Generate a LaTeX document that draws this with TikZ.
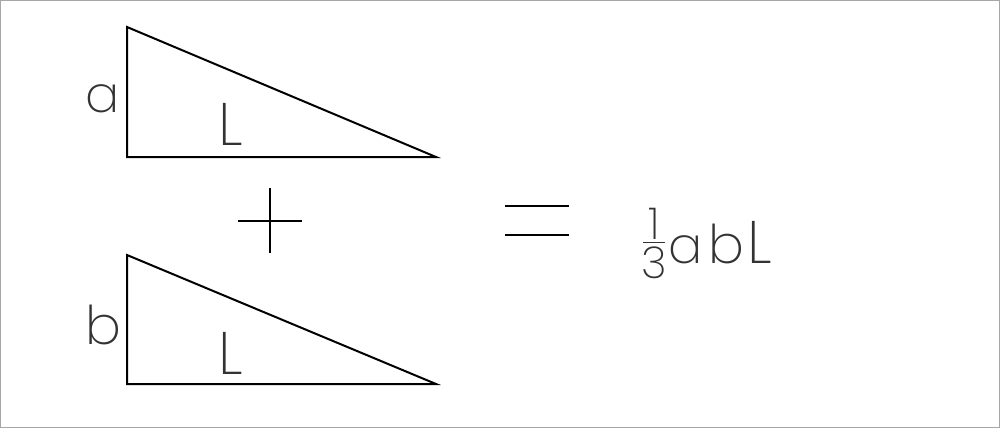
\documentclass[tikz,border=0pt]{standalone}
\usepackage{fontspec}
\newfontfamily\thinfont{Poppins ExtraLight}
\begin{document}
\begin{tikzpicture}[x=0.75pt,y=-0.75pt,
  tri/.style={line width=1.5pt, line join=miter},
  sym/.style={line width=1.5pt},
  txt/.style={inner sep=0pt, anchor=base, text=black!80},
  lbla/.style={txt, font=\thinfont\fontsize{38}{38}\selectfont},
  lblb/.style={txt, font=\thinfont\fontsize{40}{40}\selectfont},
  lblL/.style={txt, anchor=base west, font=\thinfont\fontsize{45}{45}\selectfont},
  frac/.style={txt, font=\thinfont\fontsize{33}{33}\selectfont}]
\useasboundingbox (0,0) rectangle (1000,428);
\draw[gray!70, line width=0.75pt] (0.5,0.5) rectangle (999.5,427.5);
% triangle 1
\coordinate (A1) at (127,27);
\coordinate (B1) at (127,157);
\coordinate (C1) at (436,157);
\draw[tri] (A1) -- (B1) -- (C1) -- cycle;
% triangle 2
\coordinate (A2) at (127,255);
\coordinate (B2) at (127,384);
\coordinate (C2) at (436,384);
\draw[tri] (A2) -- (B2) -- (C2) -- cycle;
% labels
\node[lbla] (la) at (103,113) {a};
\node[lblb] (lb) at (103,344) {b};
\node[lblL] (L1) at (218,146) {L};
\node[lblL] (L2) at (218,374) {L};
% plus
\coordinate (pt) at (270,188);
\coordinate (pb) at (270,253);
\coordinate (pl) at (238,221);
\coordinate (pr) at (302,221);
\draw[sym] (pt) -- (pb);
\draw[sym] (pl) -- (pr);
% equals
\coordinate (e1l) at (505,206);
\coordinate (e1r) at (569,206);
\coordinate (e2l) at (505,235);
\coordinate (e2r) at (569,235);
\draw[sym] (e1l) -- (e1r);
\draw[sym] (e2l) -- (e2r);
% result
\node[frac] (third) at (654,278) {\vbox{\offinterlineskip
  \hbox to 16.5pt{\hss 1\hss}\kern1.9pt
  \hrule height 0.8pt\kern2.4pt
  \hbox to 16.5pt{\hss 3\hss}}};
\node[lbla] (ra) at (686,263) {a};
\node[lblb] (rb) at (726,263) {b};
\node[lblL] (rL) at (747,263) {L};
\end{tikzpicture}
\end{document}
